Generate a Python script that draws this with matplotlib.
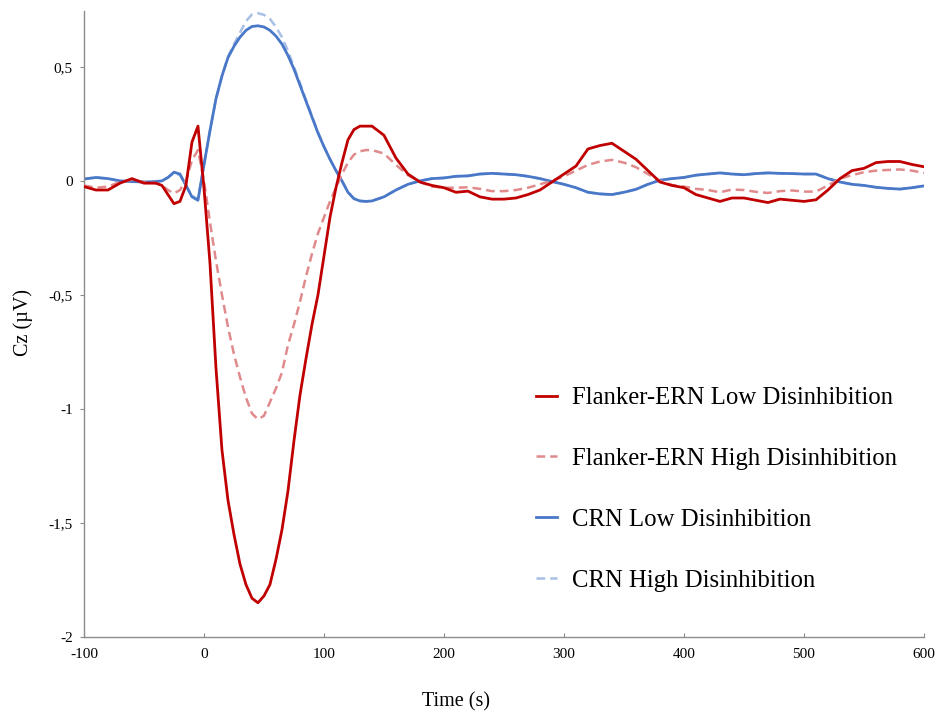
import numpy as np
import matplotlib
matplotlib.use('Agg')
import matplotlib.pyplot as plt

# time points (ms), denser around the response
time = [-100, -90, -80, -70, -60, -50,
        -40, -35, -30, -25, -20, -15, -10, -5, 0, 5, 10, 15, 20, 25, 30, 35,
        40, 45, 50, 55, 60, 65, 70, 75, 80, 85, 90, 95, 100, 105, 110, 115,
        120, 125, 130, 135, 140,
        150, 160, 170, 180, 190, 200, 210, 220, 230, 240, 250, 260, 270, 280,
        290, 300, 310, 320, 330, 340, 350, 360, 370, 380, 390, 400, 410, 420,
        430, 440, 450, 460, 470, 480, 490, 500, 510, 520, 530, 540, 550, 560,
        570, 580, 590, 600]

ern_low = [-0.025, -0.04, -0.04, -0.01, 0.01, -0.01,
           -0.01, -0.02, -0.06, -0.10, -0.09, -0.02, 0.17, 0.24, -0.03, -0.36,
           -0.82, -1.18, -1.40, -1.55, -1.68, -1.77, -1.83, -1.85, -1.82, -1.77,
           -1.66, -1.53, -1.36, -1.14, -0.94, -0.78, -0.63, -0.50, -0.33, -0.16,
           -0.03, 0.08, 0.18, 0.225, 0.24, 0.24, 0.24,
           0.20, 0.10, 0.03, -0.005, -0.02, -0.03, -0.05, -0.045, -0.07, -0.08,
           -0.08, -0.075, -0.06, -0.04, -0.005, 0.03, 0.065, 0.14, 0.155, 0.165,
           0.13, 0.095, 0.045, -0.005, -0.02, -0.03, -0.06, -0.075, -0.09,
           -0.075, -0.075, -0.085, -0.095, -0.08, -0.085, -0.09, -0.083, -0.04,
           0.01, 0.045, 0.055, 0.08, 0.085, 0.085, 0.072, 0.062]

ern_high = [-0.02, -0.03, -0.025, -0.005, 0.005, -0.005,
            -0.01, -0.02, -0.04, -0.055, -0.04, 0.0, 0.09, 0.135, 0.0, -0.18,
            -0.35, -0.50, -0.64, -0.76, -0.86, -0.95, -1.02, -1.045, -1.03,
            -0.97, -0.91, -0.84, -0.72, -0.63, -0.53, -0.42, -0.32, -0.23, -0.16,
            -0.09, -0.03, 0.03, 0.08, 0.115, 0.13, 0.135, 0.135,
            0.12, 0.07, 0.025, -0.005, -0.025, -0.03, -0.03, -0.028, -0.035,
            -0.045, -0.045, -0.04, -0.03, -0.015, 0.0, 0.02, 0.045, 0.07, 0.085,
            0.092, 0.08, 0.06, 0.03, 0.0, -0.018, -0.025, -0.035, -0.04, -0.05,
            -0.038, -0.04, -0.048, -0.053, -0.045, -0.042, -0.047, -0.047, -0.02,
            0.01, 0.025, 0.038, 0.045, 0.048, 0.05, 0.045, 0.035]

crn_low = [0.008, 0.015, 0.01, 0.0, -0.003, -0.005,
           -0.003, 0.0, 0.015, 0.038, 0.03, -0.02, -0.07, -0.085, 0.07, 0.22,
           0.36, 0.46, 0.54, 0.59, 0.63, 0.66, 0.677, 0.68, 0.675, 0.66, 0.635,
           0.60, 0.55, 0.49, 0.42, 0.35, 0.28, 0.21, 0.15, 0.095, 0.045, 0.0,
           -0.05, -0.078, -0.088, -0.09, -0.088,
           -0.07, -0.04, -0.015, 0.0, 0.01, 0.013, 0.02, 0.022, 0.03, 0.033,
           0.03, 0.027, 0.02, 0.01, -0.003, -0.015, -0.03, -0.05, -0.057, -0.06,
           -0.05, -0.037, -0.015, 0.003, 0.01, 0.015, 0.025, 0.03, 0.035, 0.03,
           0.027, 0.032, 0.035, 0.033, 0.032, 0.03, 0.03, 0.01, -0.005, -0.015,
           -0.02, -0.028, -0.033, -0.036, -0.03, -0.022]

crn_high = [0.008, 0.015, 0.01, 0.0, -0.003, -0.005,
            -0.003, 0.0, 0.015, 0.035, 0.025, -0.02, -0.065, -0.08, 0.07, 0.22,
            0.36, 0.46, 0.545, 0.60, 0.65, 0.70, 0.73, 0.735, 0.728, 0.71, 0.675,
            0.63, 0.57, 0.50, 0.43, 0.355, 0.285, 0.215, 0.15, 0.095, 0.045, 0.0,
            -0.05, -0.078, -0.088, -0.09, -0.088,
            -0.07, -0.04, -0.015, 0.0, 0.01, 0.013, 0.02, 0.022, 0.03, 0.033,
            0.03, 0.027, 0.02, 0.01, -0.003, -0.015, -0.03, -0.05, -0.057, -0.06,
            -0.05, -0.037, -0.015, 0.003, 0.01, 0.015, 0.025, 0.03, 0.035, 0.03,
            0.027, 0.032, 0.035, 0.033, 0.032, 0.03, 0.03, 0.01, -0.005, -0.015,
            -0.02, -0.028, -0.033, -0.036, -0.03, -0.022]

labels = ['Flanker-ERN Low Disinhibition', 'Flanker-ERN High Disinhibition',
          'CRN Low Disinhibition', 'CRN High Disinhibition']
xticks = [-100, 0, 100, 200, 300, 400, 500, 600]
yticks = [-2, -1.5, -1, -0.5, 0, 0.5]
ytick_labels = ['-2', '-1,5', '-1', '-0,5', '0', '0,5']

plt.rcParams['font.family'] = 'Liberation Serif'
plt.rcParams['axes.unicode_minus'] = False

fig = plt.figure(figsize=(9.35, 7.13), dpi=100)
ax = fig.add_axes([0.0898, 0.1066, 0.8984, 0.878])

l1, = ax.plot(time, ern_low, color='#c00000', lw=2.0, zorder=4)
l2, = ax.plot(time, ern_high, color='#e08a8c', lw=1.8, ls=(0, (3.5, 2)), zorder=3)
l3, = ax.plot(time, crn_low, color='#4a78c8', lw=2.0, zorder=2)
l4, = ax.plot(time, crn_high, color='#a8bfe6', lw=1.8, ls=(0, (3.5, 2)), zorder=1)

ax.set_xlim(-100, 600)
ax.set_ylim(-2, 0.745)
ax.set_xticks(xticks)
ax.set_yticks(yticks)
ax.set_yticklabels(ytick_labels)

for s in ['top', 'right']:
    ax.spines[s].set_visible(False)
for s in ['left', 'bottom']:
    ax.spines[s].set_color('#8c8c8c')
    ax.spines[s].set_linewidth(1.0)

ax.tick_params(axis='x', direction='in', length=3, color='#8c8c8c', labelsize=11, pad=8)
ax.tick_params(axis='y', direction='out', length=3, color='#8c8c8c', labelsize=11, pad=5)

ax.set_xlabel('Time (s)', fontsize=14.5)
ax.xaxis.set_label_coords(0.443, -0.089)
ax.set_ylabel('Cz (µV)', fontsize=14.5)
ax.yaxis.set_label_coords(-0.061, 0.503)

ax.legend([l1, l2, l3, l4], labels, loc='upper left', bbox_to_anchor=(0.512, 0.435),
          frameon=False, fontsize=17.8, labelspacing=1.56, handlelength=0.85,
          handletextpad=0.6)

fig.savefig('out.png', dpi=100)
